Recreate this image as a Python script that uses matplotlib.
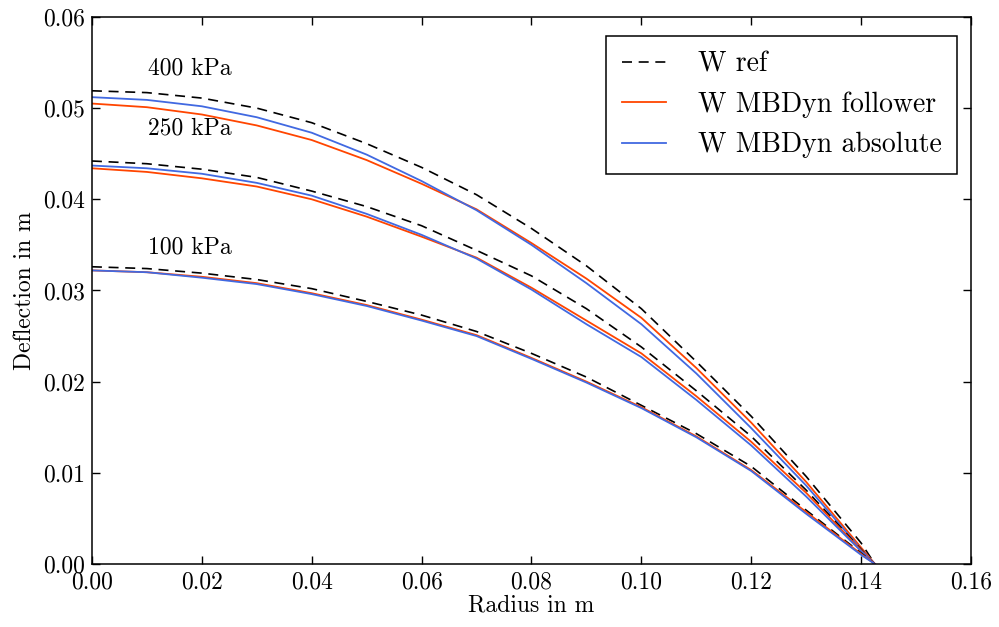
import numpy as np
import matplotlib
matplotlib.use("Agg")
import matplotlib.pyplot as plt

# ---- data ----
radius = [0.00, 0.01, 0.02, 0.03, 0.04, 0.05, 0.06, 0.07,
          0.08, 0.09, 0.10, 0.11, 0.12, 0.13, 0.14, 0.1425]

# 400 kPa
w_ref_400 = [0.0519, 0.0517, 0.0511, 0.0500, 0.0484, 0.0461, 0.0435, 0.0405,
             0.0368, 0.0327, 0.0280, 0.0222, 0.0162, 0.0096, 0.0023, 0.0]
w_fol_400 = [0.0505, 0.0501, 0.0493, 0.0481, 0.0465, 0.0443, 0.0417, 0.0389,
             0.0352, 0.0313, 0.0270, 0.0215, 0.0155, 0.0090, 0.0018, 0.0]
w_abs_400 = [0.0512, 0.0509, 0.0502, 0.0490, 0.0473, 0.0449, 0.0420, 0.0388,
             0.0350, 0.0308, 0.0263, 0.0209, 0.0149, 0.0086, 0.0016, 0.0]

# 250 kPa
w_ref_250 = [0.0442, 0.0439, 0.0433, 0.0424, 0.0409, 0.0392, 0.0371, 0.0344,
             0.0316, 0.0280, 0.0238, 0.0190, 0.0140, 0.0081, 0.0016, 0.0]
w_fol_250 = [0.0434, 0.0430, 0.0423, 0.0414, 0.0400, 0.0381, 0.0359, 0.0336,
             0.0303, 0.0267, 0.0231, 0.0184, 0.0134, 0.0078, 0.0015, 0.0]
w_abs_250 = [0.0437, 0.0434, 0.0428, 0.0418, 0.0404, 0.0384, 0.0361, 0.0335,
             0.0301, 0.0263, 0.0227, 0.0180, 0.0130, 0.0074, 0.0014, 0.0]

# 100 kPa
w_ref_100 = [0.0326, 0.0324, 0.0319, 0.0312, 0.0302, 0.0288, 0.0273, 0.0255,
             0.0231, 0.0205, 0.0174, 0.0143, 0.0107, 0.0059, 0.0012, 0.0]
w_fol_100 = [0.0322, 0.0320, 0.0315, 0.0308, 0.0297, 0.0284, 0.0268, 0.0251,
             0.0226, 0.0200, 0.0172, 0.0140, 0.0103, 0.0057, 0.0011, 0.0]
w_abs_100 = [0.0322, 0.0320, 0.0314, 0.0307, 0.0296, 0.0283, 0.0267, 0.0250,
             0.0225, 0.0199, 0.0171, 0.0139, 0.0102, 0.0055, 0.0010, 0.0]

pressure_labels = ["400 kPa", "250 kPa", "100 kPa"]
label_pos = [(0.0102, 0.0544), (0.0102, 0.0478), (0.0102, 0.0347)]

# ---- style (Computer Modern look, classic ticks) ----
plt.rcParams["font.family"] = ["cmr10", "DejaVu Serif"]
plt.rcParams["mathtext.fontset"] = "cm"
plt.rcParams["axes.formatter.use_mathtext"] = True
plt.rcParams["axes.unicode_minus"] = False

fig = plt.figure(figsize=(9.99, 6.27), dpi=100)
ax = fig.add_axes([0.092, 0.1005, 0.880, 0.8725])

ref_style = dict(color="black", linestyle="--", linewidth=1.2, dashes=(6, 4))
fol_style = dict(color="#ff4500", linewidth=1.3)
abs_style = dict(color="#4169e1", linewidth=1.3)

sets = [(w_ref_400, w_fol_400, w_abs_400),
        (w_ref_250, w_fol_250, w_abs_250),
        (w_ref_100, w_fol_100, w_abs_100)]

for i, (wr, wf, wa) in enumerate(sets):
    ax.plot(radius, wr, label="W ref" if i == 0 else None, **ref_style)
    ax.plot(radius, wf, label="W MBDyn follower" if i == 0 else None, **fol_style)
    ax.plot(radius, wa, label="W MBDyn absolute" if i == 0 else None, **abs_style)

for txt, (tx, ty) in zip(pressure_labels, label_pos):
    ax.text(tx, ty, txt, fontsize=17, va="center", ha="left")

ax.set_xlim(0, 0.16)
ax.set_ylim(0, 0.06)
ax.set_xticks(np.arange(0, 0.1601, 0.02))
ax.set_yticks(np.arange(0, 0.0601, 0.01))
ax.xaxis.set_major_formatter(plt.FormatStrFormatter("%.2f"))
ax.yaxis.set_major_formatter(plt.FormatStrFormatter("%.2f"))
ax.tick_params(direction="in", top=True, right=True, length=6, width=1,
               labelsize=17, pad=5)
for s in ax.spines.values():
    s.set_linewidth(1.1)

ax.set_xlabel("Radius in m", fontsize=17, labelpad=1)
ax.set_ylabel("Deflection in m", fontsize=17, labelpad=5)

leg = ax.legend(loc="upper right", bbox_to_anchor=(0.984, 0.965),
                borderaxespad=0, fontsize=20, fancybox=False, framealpha=1,
                edgecolor="black", handlelength=1.6, borderpad=0.55,
                labelspacing=0.5, handletextpad=1.15)
leg.get_frame().set_linewidth(1.1)

fig.savefig("out.png", dpi=100)
